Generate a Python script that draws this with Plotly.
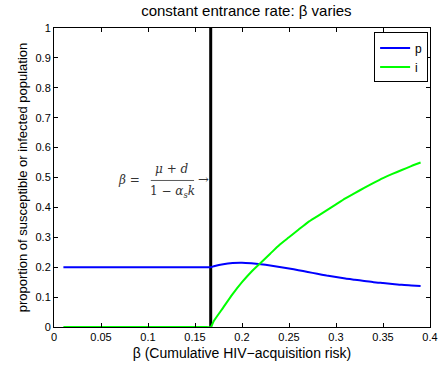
import plotly.graph_objects as go

# threshold value of beta where the infection can persist
beta_c = 0.1667

# beta grid and the two population proportions
beta = [0.01, 0.02, 0.03, 0.04, 0.05, 0.06, 0.07, 0.08, 0.09, 0.10,
        0.11, 0.12, 0.13, 0.14, 0.15, 0.16, 0.1667, 0.17, 0.18, 0.19,
        0.20, 0.21, 0.22, 0.23, 0.24, 0.25, 0.26, 0.27, 0.28, 0.29,
        0.30, 0.31, 0.32, 0.33, 0.34, 0.35, 0.36, 0.37, 0.38, 0.39]
p_vals = [0.2, 0.2, 0.2, 0.2, 0.2, 0.2, 0.2, 0.2, 0.2, 0.2,
          0.2, 0.2, 0.2, 0.2, 0.2, 0.2, 0.2, 0.203, 0.210, 0.214,
          0.215, 0.213, 0.210, 0.206, 0.201, 0.196, 0.190, 0.184, 0.178, 0.172,
          0.167, 0.162, 0.158, 0.154, 0.150, 0.147, 0.144, 0.141, 0.139, 0.137]
i_vals = [0, 0, 0, 0, 0, 0, 0, 0, 0, 0,
          0, 0, 0, 0, 0, 0, 0, 0.02, 0.065, 0.11,
          0.15, 0.185, 0.215, 0.245, 0.275, 0.30, 0.325, 0.35, 0.37, 0.39,
          0.41, 0.43, 0.448, 0.465, 0.482, 0.498, 0.512, 0.525, 0.538, 0.55]

x_ticks = [0, 0.05, 0.1, 0.15, 0.2, 0.25, 0.3, 0.35, 0.4]
y_ticks = [0, 0.1, 0.2, 0.3, 0.4, 0.5, 0.6, 0.7, 0.8, 0.9, 1]

fig = go.Figure()
fig.add_trace(go.Scatter(x=[beta_c, beta_c], y=[0, 1], mode="lines",
                         line=dict(color="black", width=3), showlegend=False,
                         hoverinfo="skip"))
fig.add_trace(go.Scatter(x=beta, y=p_vals, mode="lines", name="p",
                         line=dict(color="#0000ff", width=2, shape="spline",
                                   smoothing=0.6)))
fig.add_trace(go.Scatter(x=beta, y=i_vals, mode="lines", name="i",
                         line=dict(color="#00ff00", width=2, shape="spline",
                                   smoothing=0.6)))

sans = "Liberation Sans, Arial, sans-serif"
serif = "DejaVu Serif, Liberation Serif, serif"

axis_common = dict(showline=True, linecolor="black", linewidth=1, mirror="ticks",
                   ticks="inside", ticklen=4, tickcolor="black", showgrid=False,
                   zeroline=False, tickfont=dict(family=sans, size=11, color="black"))

fig.update_layout(
    width=448, height=373,
    margin=dict(l=54, r=10, t=28, b=46),
    paper_bgcolor="white", plot_bgcolor="white",
    title=dict(text="constant entrance rate: β varies", x=0.55, xanchor="center",
               y=0.972, yanchor="middle",
               font=dict(family=sans, size=15, color="black")),
    xaxis=dict(range=[0, 0.4], tickvals=x_ticks,
               ticktext=[str(t) for t in x_ticks],
               title=dict(text="β (Cumulative HIV−acquisition risk)", standoff=5,
                          font=dict(family=sans, size=14, color="black")),
               **axis_common),
    yaxis=dict(range=[0, 1], tickvals=y_ticks,
               ticktext=[str(t) for t in y_ticks],
               title=dict(text="proportion of susceptible or infected population",
                          standoff=4,
                          font=dict(family=sans, size=13, color="black")),
               **axis_common),
    legend=dict(x=0.995, y=0.985, xanchor="right", yanchor="top",
                bgcolor="white", bordercolor="black", borderwidth=1,
                font=dict(family=sans, size=12, color="black"),
                tracegroupgap=0, itemwidth=30),
)

# threshold formula written next to the vertical line
ann_font = dict(family=serif, size=12, color="#333333")
fig.add_annotation(x=0.066, y=0.49, xref="x", yref="y", text="<i>β</i> =",
                   showarrow=False, font=ann_font, xanchor="left")
fig.add_annotation(x=0.126, y=0.528, xref="x", yref="y", text="<i>μ</i> + <i>d</i>",
                   showarrow=False, font=ann_font)
fig.add_annotation(x=0.126, y=0.452, xref="x", yref="y",
                   text="1 − <i>α<sub>s</sub>k</i>",
                   showarrow=False, font=ann_font)
fig.add_shape(type="line", xref="x", yref="y", x0=0.103, x1=0.149, y0=0.49, y1=0.49,
              line=dict(color="#333333", width=0.8))
fig.add_annotation(x=0.159, y=0.493, xref="x", yref="y", text="→",
                   showarrow=False, font=dict(family=serif, size=13, color="#333333"))

fig.write_html("out.html")
